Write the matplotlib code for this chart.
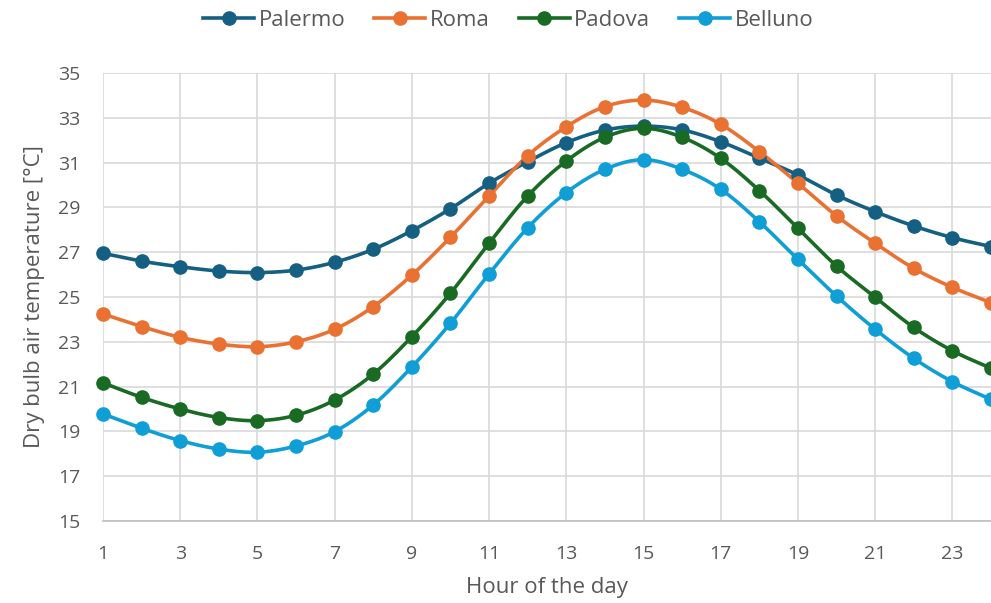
import numpy as np
import matplotlib
matplotlib.use("Agg")
import matplotlib.pyplot as plt

hours = list(range(1, 25))
palermo = [26.95, 26.6, 26.35, 26.16, 26.09, 26.2, 26.55, 27.13, 27.96, 28.94, 30.08, 31.04,
           31.89, 32.45, 32.63, 32.46, 31.93, 31.2, 30.45, 29.55, 28.81, 28.17, 27.65, 27.25]
roma = [24.24, 23.68, 23.2, 22.9, 22.78, 23.0, 23.56, 24.57, 25.98, 27.67, 29.51, 31.31,
        32.6, 33.5, 33.79, 33.47, 32.71, 31.49, 30.08, 28.62, 27.4, 26.28, 25.43, 24.75]
padova = [21.17, 20.52, 20.0, 19.62, 19.48, 19.72, 20.4, 21.56, 23.23, 25.17, 27.4, 29.51,
          31.07, 32.13, 32.53, 32.13, 31.19, 29.75, 28.07, 26.38, 24.99, 23.64, 22.6, 21.82]
belluno = [19.78, 19.14, 18.59, 18.21, 18.07, 18.35, 18.99, 20.18, 21.88, 23.83, 26.03, 28.09,
           29.66, 30.7, 31.13, 30.7, 29.81, 28.36, 26.68, 25.04, 23.56, 22.26, 21.22, 20.43]

names = ["Palermo", "Roma", "Padova", "Belluno"]
colors = ["#156082", "#E97132", "#196B24", "#0F9ED5"]
series = [palermo, roma, padova, belluno]

plt.rcParams['font.family'] = ['Open Sans', 'DejaVu Sans']
text_color = "#595959"


def smooth(x, y, n=20):
    # Catmull-Rom style smoothing (Excel "smoothed line")
    x = np.asarray(x, float)
    y = np.asarray(y, float)
    px = np.concatenate([[x[0]], x, [x[-1]]])
    py = np.concatenate([[y[0]], y, [y[-1]]])
    xs, ys = [], []
    for i in range(1, len(px) - 2):
        p0 = np.array([px[i - 1], py[i - 1]])
        p1 = np.array([px[i], py[i]])
        p2 = np.array([px[i + 1], py[i + 1]])
        p3 = np.array([px[i + 2], py[i + 2]])
        c1 = p1 + (p2 - p0) / 6.0
        c2 = p2 - (p3 - p1) / 6.0
        t = np.linspace(0, 1, n, endpoint=False)[:, None]
        pts = ((1 - t) ** 3) * p1 + 3 * ((1 - t) ** 2) * t * c1 + 3 * (1 - t) * t ** 2 * c2 + t ** 3 * p2
        xs.append(pts[:, 0])
        ys.append(pts[:, 1])
    xs.append([x[-1]])
    ys.append([y[-1]])
    return np.concatenate(xs), np.concatenate(ys)


fig = plt.figure(figsize=(9.91, 6.03), dpi=100)
ax = fig.add_axes([103 / 991, (603 - 521) / 603, 888 / 991, 448 / 603])

for name, c, s in zip(names, colors, series):
    sx, sy = smooth(hours, s)
    ax.plot(sx, sy, color=c, lw=2.6, clip_on=False, zorder=3, solid_capstyle='round')
    ax.plot(hours, s, linestyle='none', marker='o', ms=9.5, color=c, clip_on=False, zorder=4)
    ax.plot([], [], color=c, lw=2.6, marker='o', ms=9.5, label=name)

ax.set_xlim(1, 24)
ax.set_ylim(15, 35)
ax.set_xticks(list(range(1, 24, 2)))
ax.set_yticks(list(range(15, 36, 2)))
ax.grid(True, color="#D9D9D9", lw=1.2)
ax.set_axisbelow(True)
for sp in ["top", "right", "left"]:
    ax.spines[sp].set_visible(False)
ax.spines["bottom"].set_color("#BFBFBF")
ax.spines["bottom"].set_linewidth(1.2)
ax.tick_params(axis='both', length=0, labelsize=14, labelcolor=text_color)
ax.tick_params(axis='x', pad=17)
ax.tick_params(axis='y', pad=16)

ax.set_xlabel("Hour of the day", fontsize=16, color=text_color, labelpad=10)
ax.set_ylabel("Dry bulb air temperature [°C]", fontsize=16, color=text_color, labelpad=10)

leg = fig.legend(loc='center', bbox_to_anchor=(0.513, 1 - 20 / 603), ncol=4, frameon=False,
                 fontsize=16, handlelength=2.3, columnspacing=1.3, handletextpad=0.2)
for t in leg.get_texts():
    t.set_color(text_color)

fig.savefig("out.png", dpi=100)
